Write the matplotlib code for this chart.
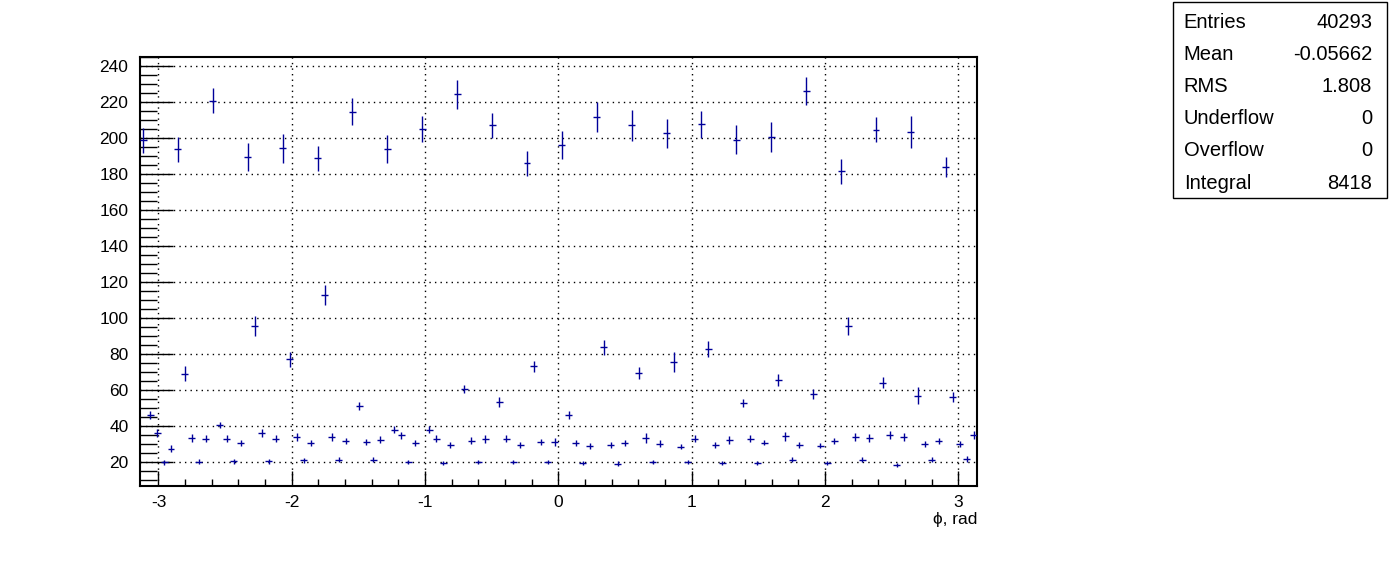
import numpy as np
import matplotlib
matplotlib.use("Agg")
import matplotlib.pyplot as plt
from matplotlib.ticker import MultipleLocator
from matplotlib.patches import Rectangle

plt.rcParams['font.family'] = ['Liberation Sans', 'DejaVu Sans']
plt.rcParams['axes.unicode_minus'] = False

# histogram: 120 bins over [-pi, pi]
n_bins = 120
x_min, x_max = -np.pi, np.pi

counts = [
    198.7, 45.9, 36.1, 19.8, 27.4, 193.9, 69.1, 33.3, 20.0, 33.0,
    220.9, 40.7, 32.8, 20.4, 30.6, 189.4, 95.6, 36.1, 20.4, 33.0,
    194.3, 77.0, 33.9, 20.9, 30.4, 188.9, 112.8, 33.9, 21.1, 31.7,
    214.8, 51.1, 31.1, 21.1, 32.4, 194.1, 37.8, 34.8, 19.8, 30.6,
    205.0, 38.0, 33.0, 19.4, 29.4, 224.4, 60.6, 31.9, 20.0, 32.8,
    207.2, 53.5, 33.0, 20.0, 29.4, 186.1, 73.1, 31.1, 19.8, 31.3,
    196.3, 46.1, 30.4, 19.4, 28.9, 211.7, 83.7, 29.4, 18.9, 30.6,
    207.2, 69.4, 33.3, 19.8, 30.2, 202.6, 75.6, 28.5, 19.8, 33.0,
    207.6, 83.0, 29.4, 19.4, 32.2, 199.1, 52.8, 33.0, 19.4, 30.6,
    200.4, 65.6, 34.3, 21.1, 29.4, 226.1, 57.8, 28.9, 19.4, 31.7,
    181.5, 95.6, 33.9, 21.1, 33.3, 204.6, 64.1, 35.0, 18.3, 33.9,
    203.5, 56.7, 30.0, 21.1, 31.7, 183.9, 55.9, 30.0, 21.7, 34.8,
]

errors = [
    6.9, 2.2, 2.0, 1.4, 2.0, 7.0, 4.0, 2.0, 1.4, 2.0,
    6.9, 1.6, 2.0, 1.4, 1.8, 7.8, 5.7, 2.2, 1.4, 2.0,
    8.2, 4.0, 2.0, 1.4, 1.8, 6.9, 5.6, 2.0, 1.4, 1.8,
    7.6, 2.4, 1.8, 1.4, 2.0, 7.9, 2.0, 2.0, 1.2, 1.8,
    7.1, 1.8, 2.0, 1.2, 1.8, 8.1, 2.4, 1.8, 1.2, 2.2,
    7.0, 2.8, 1.8, 1.2, 1.8, 6.9, 3.2, 1.8, 1.2, 2.2,
    7.8, 2.0, 1.8, 1.2, 1.5, 8.5, 4.2, 1.8, 1.4, 1.6,
    8.7, 3.5, 3.0, 1.2, 1.8, 8.2, 5.4, 1.2, 1.2, 2.0,
    7.6, 4.5, 1.8, 1.2, 2.0, 8.1, 2.4, 2.0, 1.2, 1.4,
    8.3, 3.3, 2.4, 1.4, 1.6, 7.7, 3.0, 1.4, 1.2, 1.8,
    6.9, 5.2, 2.0, 1.4, 2.0, 6.9, 3.0, 2.0, 1.2, 2.0,
    8.8, 4.7, 1.6, 1.4, 1.8, 5.6, 2.8, 1.6, 1.6, 2.2,
]

stat_names = ["Entries", "Mean", "RMS", "Underflow", "Overflow", "Integral"]
stat_values = ["40293", "-0.05662", "1.808", "0", "0", "8418"]

x_label = "ϕ, rad"

# bin geometry
edges = np.linspace(x_min, x_max, n_bins + 1)
centers = 0.5 * (edges[:-1] + edges[1:])
half_w = 0.5 * (edges[1] - edges[0])

fig = plt.figure(figsize=(13.96, 5.72), dpi=100)
ax = fig.add_axes([0.1, 0.15, 0.6, 0.75])

ax.errorbar(centers, counts, xerr=half_w, yerr=errors, fmt='none',
            ecolor='#000099', elinewidth=1.0, capsize=0, zorder=3)

ax.set_xlim(x_min, x_max)
ax.set_ylim(6.5, 245)

ax.xaxis.set_major_locator(MultipleLocator(1))
ax.xaxis.set_minor_locator(MultipleLocator(0.2))
ax.yaxis.set_major_locator(MultipleLocator(20))
ax.yaxis.set_minor_locator(MultipleLocator(5))

ax.tick_params(axis='both', which='both', direction='in', top=False, right=False,
               labelsize=12.5, colors='black')
ax.tick_params(axis='x', which='major', length=11, width=1, pad=6)
ax.tick_params(axis='x', which='minor', length=5, width=1)
ax.tick_params(axis='y', which='major', length=24, width=1, pad=8)
ax.tick_params(axis='y', which='minor', length=12, width=1)

ax.grid(True, which='major', linestyle=(0, (1, 3)), color='black', linewidth=1.0)
ax.set_axisbelow(True)

for s in ax.spines.values():
    s.set_linewidth(1.5)

ax.set_xlabel(x_label, fontsize=12.5, loc='right', labelpad=2)

# stats box, ROOT style
box = Rectangle((0.8405, 0.654), 0.153, 0.3425, transform=fig.transFigure,
                facecolor='white', edgecolor='black', linewidth=1.0)
fig.patches.append(box)
row_y = 0.961
for name, val in zip(stat_names, stat_values):
    fig.text(0.848, row_y, name, fontsize=14.5, va='center', ha='left')
    fig.text(0.983, row_y, val, fontsize=14.5, va='center', ha='right')
    row_y -= 0.0562

fig.savefig("out.png", dpi=100)
